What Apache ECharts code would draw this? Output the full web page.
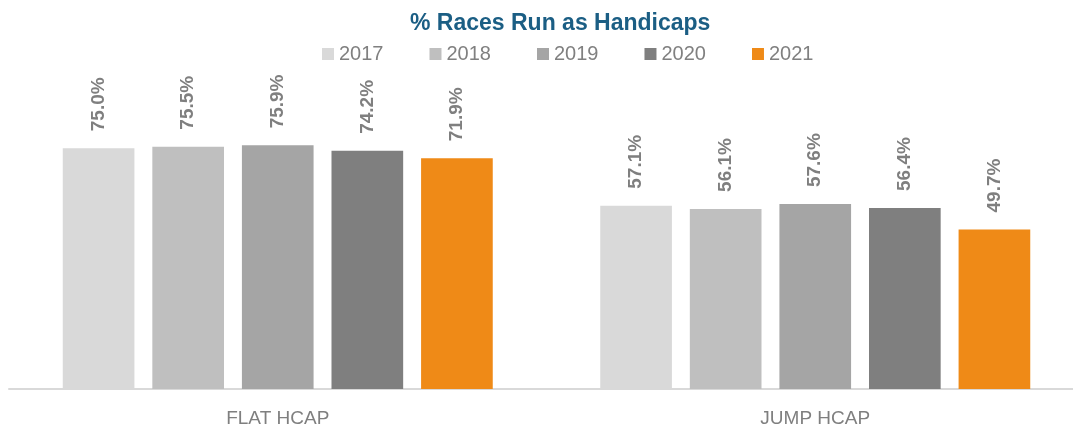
<!DOCTYPE html>
<html><head><meta charset="utf-8">
<script src="https://cdn.jsdelivr.net/npm/echarts@6/dist/echarts.min.js"></script>
<style>html,body{margin:0;padding:0;background:#fff}#c{width:1073px;height:429px}</style>
</head><body><div id="c"></div>
<script>
const categories = ['FLAT HCAP', 'JUMP HCAP'];
const years = ['2017', '2018', '2019', '2020', '2021'];
const v2017 = [75.0, 57.1];
const v2018 = [75.5, 56.1];
const v2019 = [75.9, 57.6];
const v2020 = [74.2, 56.4];
const v2021 = [71.9, 49.7];
const seriesValues = [v2017, v2018, v2019, v2020, v2021];
const colors = ['#D9D9D9', '#BFBFBF', '#A5A5A5', '#7F7F7F', '#EF8A17'];
const FONT = '"Liberation Sans", Arial, sans-serif';

const chart = echarts.init(document.getElementById('c'));
chart.setOption({
  animation: false,
  title: {
    text: '% Races Run as Handicaps', left: 405, top: 7,
    textStyle: { color: '#1B5E84', fontSize: 23, fontWeight: 'bold', fontFamily: FONT }
  },
  legend: {
    data: years, left: 317, top: 39, itemWidth: 12, itemHeight: 12, itemGap: 46,
    icon: 'rect',
    textStyle: { color: '#808080', fontSize: 20, fontFamily: FONT }
  },
  grid: { left: 9, right: -11, top: 68, bottom: 40, containLabel: false, outerBoundsMode: 'none' },
  xAxis: {
    type: 'category', data: categories,
    axisLine: { lineStyle: { color: '#D9D9D9', width: 2 } },
    axisTick: { show: false },
    axisLabel: { color: '#7F7F7F', fontSize: 19, fontFamily: FONT, margin: 20 }
  },
  yAxis: { type: 'value', min: 0, max: 100, show: false, splitLine: { show: false } },
  series: years.map((y, i) => ({
    name: y, type: 'bar', data: seriesValues[i],
    barGap: '25%', barCategoryGap: '20%',
    itemStyle: { color: colors[i] },
    label: {
      show: true, position: 'top', rotate: 90, align: 'left', verticalAlign: 'middle',
      distance: 17, color: '#7F7F7F', fontSize: 19, fontWeight: 'bold', fontFamily: FONT,
      formatter: p => p.value.toFixed(1) + '%'
    }
  }))
});
</script></body></html>
